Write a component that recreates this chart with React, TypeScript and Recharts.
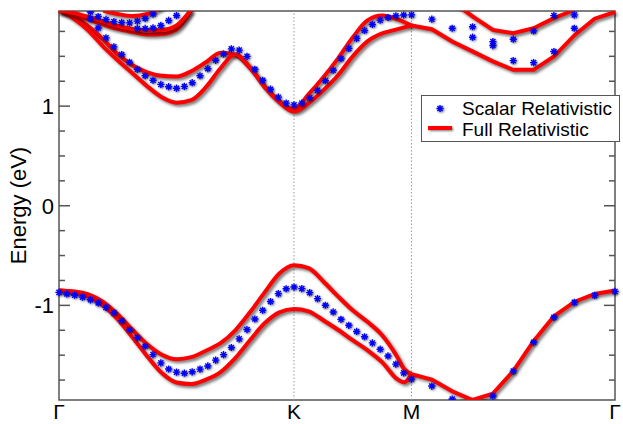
import {
  ComposedChart,
  Line,
  Scatter,
  XAxis,
  YAxis,
  ReferenceLine,
  ReferenceArea,
} from 'recharts'

// high-symmetry points of the path (k in units of 2π/a)
const HS_K = [0, 0.6667, 1.0, 1.5774]
const HS_LABELS = ['Γ', 'K', 'M', 'Γ']
const Y_TICKS = [-1.75, -1.5, -1.25, -1, -0.75, -0.5, -0.25, 0, 0.25, 0.5, 0.75, 1, 1.25, 1.5, 1.75]
const Y_MIN = -1.95
const Y_MAX = 1.955

// k grid of the scalar-relativistic points, Γ → K → M
const K_SCALAR = [
  0, 0.0222, 0.0444, 0.0667, 0.0889, 0.1111, 0.1333, 0.1556, 0.1778, 0.2, 0.2222, 0.2444,
  0.2667, 0.2889, 0.3111, 0.3333, 0.3556, 0.3778, 0.4, 0.4222, 0.4444, 0.4667, 0.4889,
  0.5111, 0.5333, 0.5556, 0.5778, 0.6, 0.6222, 0.6444, 0.6667, 0.6889, 0.7111, 0.7333,
  0.7556, 0.7778, 0.8, 0.8222, 0.8444, 0.8667, 0.8889, 0.9111, 0.9333, 0.9556, 0.9778, 1.0,
]
// k grid of the full-relativistic curves, Γ → K → M
const K_RED = [
  0, 0.0417, 0.0833, 0.125, 0.1667, 0.2083, 0.25, 0.2917, 0.3333, 0.375, 0.4167, 0.4583, 0.5,
  0.5417, 0.5833, 0.625, 0.6667, 0.7083, 0.75, 0.7917, 0.8333, 0.875, 0.9167, 0.9583, 0.9792, 1.0,
]
// k grid along M → Γ (both sets)
const K_MG = [1.0, 1.0577, 1.1155, 1.1732, 1.2309, 1.2887, 1.3464, 1.4041, 1.4619, 1.5196, 1.5774]

// scalar relativistic (eV)
const SC_VB = [
  -0.87, -0.886, -0.898, -0.917, -0.944, -0.975, -1.02, -1.073, -1.153, -1.245, -1.324, -1.41,
  -1.494, -1.577, -1.639, -1.67, -1.681, -1.667, -1.64, -1.608, -1.55, -1.495, -1.423, -1.336,
  -1.243, -1.137, -1.049, -0.961, -0.882, -0.833, -0.816, -0.832, -0.872, -0.932, -0.999,
  -1.066, -1.14, -1.2, -1.262, -1.315, -1.377, -1.44, -1.508, -1.59, -1.678, -1.74,
]
const SC_CB1 = [
  null, null, null, null, 1.88, 1.785, 1.685, 1.595, 1.518, 1.44, 1.37, 1.305, 1.26, 1.218,
  1.195, 1.18, 1.198, 1.235, 1.305, 1.376, 1.46, 1.525, 1.575, 1.562, 1.5, 1.37, 1.26, 1.17,
  1.09, 1.03, 1.013, 1.03, 1.083, 1.158, 1.255, 1.36, 1.478, 1.58, 1.68, 1.76, 1.82, 1.863,
  1.89, 1.907, 1.915, 1.916,
]
const SC_CB2 = [1.945, 1.9, 1.87, 1.848, 1.84, 1.836, 1.853, 1.88, 1.925] // from index 4
const SC_CB3 = [1.78, 1.78, 1.785, 1.81, 1.86, 1.91] // from index 10
const SC_MG_VB = [null, -1.81, -1.94, null, -1.91, -1.66, -1.37, -1.12, -0.97, -0.9, -0.86]
const SC_MG_CB1 = [null, 1.873, 1.782, 1.692, 1.608, 1.457, 1.437, 1.548, 1.782]
const SC_MG_CB2 = [1.797, 1.648, 1.672, 1.755, 1.909, 1.916] // from index 3

// full relativistic (eV)
const RED_VB_UP = [
  -0.85, -0.86, -0.89, -0.965, -1.09, -1.245, -1.39, -1.495, -1.54, -1.52, -1.455, -1.38, -1.25,
  -1.07, -0.87, -0.68, -0.597, -0.626, -0.76, -0.91, -1.05, -1.165, -1.3, -1.51, -1.64, -1.69,
]
const RED_VB_DN = [
  -0.85, -0.865, -0.91, -1.0, -1.14, -1.32, -1.51, -1.68, -1.775, -1.79, -1.745, -1.67, -1.53,
  -1.35, -1.18, -1.07, -1.036, -1.06, -1.15, -1.245, -1.35, -1.45, -1.57, -1.738, -1.772, -1.69,
]
const RED_CB_A = [
  1.96, 1.9, 1.8, 1.67, 1.52, 1.41, 1.34, 1.305, 1.297, 1.35, 1.44, 1.535, 1.515, 1.385, 1.2,
  1.05, 0.97, 1.12, 1.29, 1.48, 1.69, 1.86, 1.91, 1.875, 1.845, 1.81,
]
const RED_CB_B = [
  1.96, 1.88, 1.76, 1.6, 1.46, 1.33, 1.2, 1.09, 1.035, 1.06, 1.19, 1.38, 1.52, 1.39, 1.19, 1.04,
  0.945, 1.03, 1.16, 1.31, 1.5, 1.65, 1.73, 1.77, 1.79, 1.81,
]
const RED_CB_C = [1.96, 1.92, 1.87, 1.82, 1.775, 1.745, 1.72, 1.725, 1.77, 1.96]
const RED_CB_D = [1.96, 1.935, 1.895, 1.85, 1.805, 1.775, 1.762, 1.765, 1.81, 1.97]
const RED_CB_E = [1.96, 1.925, 1.905, 1.925, 1.99] // from index 3
const RED_MG_VB = [-1.69, -1.745, -1.862, -1.95, -1.886, -1.66, -1.36, -1.11, -0.966, -0.886, -0.85]
const RED_MG_CB1 = [1.81, 1.772, 1.648, 1.55, 1.45, 1.364, 1.364, 1.498, 1.71, 1.878, 1.945]
const RED_MG_CB2 = [2.05, 1.9, 1.765, 1.732, 1.782, 1.883, 1.965] // from index 2

type Pt = { k: number; e: number }

function pts(ks: number[], es: (number | null)[], from = 0): Pt[] {
  const out: Pt[] = []
  es.forEach((e, i) => {
    if (e != null) out.push({ k: ks[from + i], e })
  })
  return out
}

const scalarPts = [
  ...pts(K_SCALAR, SC_VB),
  ...pts(K_SCALAR, SC_CB1),
  ...pts(K_SCALAR, SC_CB2, 4),
  ...pts(K_SCALAR, SC_CB3, 10),
  ...pts(K_MG, SC_MG_VB),
  ...pts(K_MG, SC_MG_CB1),
  ...pts(K_MG, SC_MG_CB2, 3),
]

const smoothBands = [
  pts(K_RED, RED_VB_UP),
  pts(K_RED, RED_VB_DN),
  pts(K_RED, RED_CB_A),
  pts(K_RED, RED_CB_B),
  pts(K_RED, RED_CB_C),
  pts(K_RED, RED_CB_D),
  pts(K_RED, RED_CB_E, 3),
]
const mgBands = [pts(K_MG, RED_MG_VB), pts(K_MG, RED_MG_CB1), pts(K_MG, RED_MG_CB2, 2)]

const FONT = '"Liberation Sans", Arial, Helvetica, sans-serif'
const AXIS = '#555'
const RED = '#ff0000'
const BLUE = '#0000ff'
const SHADOW = 'drop-shadow(1.5px 1.5px 1px rgba(0,0,0,0.55))'

function Star(props: any) {
  const { cx, cy } = props
  if (cx == null || cy == null) return null
  const r = 3.6
  const d = r * 0.707
  return (
    <g style={{ filter: SHADOW }}>
      <path
        d={`M${cx - r} ${cy}H${cx + r}M${cx} ${cy - r}V${cy + r}M${cx - d} ${cy - d}L${cx + d} ${cy + d}M${cx - d} ${cy + d}L${cx + d} ${cy - d}`}
        stroke={BLUE}
        strokeWidth={1.4}
        fill="none"
      />
    </g>
  )
}

function LeftTick({ x, y, payload }: any) {
  const major = Number.isInteger(payload.value)
  return (
    <g>
      <line x1={x} x2={x + (major ? 11 : 6)} y1={y} y2={y} stroke={AXIS} strokeWidth={1.5} />
      {major && (
        <text x={x - 5} y={y} dy="0.36em" textAnchor="end" fontSize={22} fill="#000" fontFamily={FONT}>
          {payload.value}
        </text>
      )}
    </g>
  )
}

function RightTick({ x, y, payload }: any) {
  const major = Number.isInteger(payload.value)
  return <line x1={x - (major ? 11 : 6)} x2={x} y1={y} y2={y} stroke={AXIS} strokeWidth={1.5} />
}

function XTick({ x, y, payload }: any) {
  const i = HS_K.indexOf(payload.value)
  return (
    <text x={x} y={y + 19} textAnchor="middle" fontSize={21} fill="#000" fontFamily={FONT}>
      {HS_LABELS[i]}
    </text>
  )
}

function YTitle(props: any) {
  const vb = props.viewBox ?? { x: 0, y: 11, width: 59, height: 389 }
  const x = vb.x + 26
  const y = vb.y + vb.height / 2
  return (
    <text
      x={x}
      y={y}
      transform={`rotate(-90 ${x} ${y})`}
      textAnchor="middle"
      fontSize={22}
      fill="#000"
      fontFamily={FONT}
    >
      Energy (eV)
    </text>
  )
}

function LegendBox() {
  return (
    <div
      style={{
        position: 'absolute',
        left: 421,
        top: 95,
        width: 197,
        height: 45,
        border: `1px solid ${AXIS}`,
        background: '#fff',
      }}
    >
      <svg width={197} height={45}>
        <Star cx={18} cy={12.5} />
        <text x={40} y={19} fontSize={19} fontFamily={FONT} fill="#000">
          Scalar Relativistic
        </text>
        <line x1={6} x2={30} y1={32} y2={32} stroke={RED} strokeWidth={4} style={{ filter: SHADOW }} />
        <text x={40} y={39.5} fontSize={19} fontFamily={FONT} fill="#000">
          Full Relativistic
        </text>
      </svg>
    </div>
  )
}

export default function App() {
  const kMax = HS_K[HS_K.length - 1]
  return (
    <div style={{ position: 'relative', width: 623, height: 424, background: '#fff', fontFamily: FONT }}>
      <style>{`body{margin:0}.recharts-line-curve{filter:drop-shadow(2px 2px 1.5px rgba(0,0,0,0.55))}`}</style>
      <ComposedChart width={623} height={424} margin={{ top: 11, right: 0, bottom: 0, left: 0 }}>
        <XAxis
          type="number"
          dataKey="k"
          domain={[0, kMax]}
          ticks={HS_K}
          interval={0}
          tick={<XTick />}
          tickLine={false}
          tickSize={0}
          tickMargin={0}
          axisLine={false}
          height={24}
        />
        <YAxis
          yAxisId="left"
          type="number"
          dataKey="e"
          domain={[Y_MIN, Y_MAX]}
          allowDataOverflow
          ticks={Y_TICKS}
          interval={0}
          tick={<LeftTick />}
          tickLine={false}
          tickSize={0}
          tickMargin={0}
          axisLine={false}
          width={59}
          label={<YTitle />}
        />
        <YAxis
          yAxisId="right"
          orientation="right"
          type="number"
          domain={[Y_MIN, Y_MAX]}
          allowDataOverflow
          ticks={Y_TICKS}
          interval={0}
          tick={<RightTick />}
          tickLine={false}
          tickSize={0}
          tickMargin={0}
          axisLine={false}
          width={8}
        />
        {HS_K.slice(1, 3).map((k) => (
          <ReferenceLine key={k} x={k} yAxisId="left" stroke="#9a9a9a" strokeDasharray="1.5 2" strokeWidth={1} />
        ))}
        <Scatter
          yAxisId="left"
          data={scalarPts}
          dataKey="e"
          shape={<Star />}
          isAnimationActive={false}
          name="Scalar Relativistic"
        />
        {smoothBands.map((d, i) => (
          <Line
            key={`s${i}`}
            yAxisId="left"
            data={d}
            dataKey="e"
            type="monotone"
            stroke={RED}
            strokeWidth={4}
            dot={false}
            activeDot={false}
            isAnimationActive={false}
          />
        ))}
        {mgBands.map((d, i) => (
          <Line
            key={`m${i}`}
            yAxisId="left"
            data={d}
            dataKey="e"
            type="linear"
            stroke={RED}
            strokeWidth={4}
            dot={false}
            activeDot={false}
            isAnimationActive={false}
          />
        ))}
        <ReferenceArea
          yAxisId="left"
          x1={0}
          x2={kMax}
          y1={Y_MIN}
          y2={Y_MAX}
          fill="none"
          stroke={AXIS}
          strokeWidth={1.5}
          fillOpacity={0}
          ifOverflow="visible"
        />
      </ComposedChart>
      <LegendBox />
    </div>
  )
}
